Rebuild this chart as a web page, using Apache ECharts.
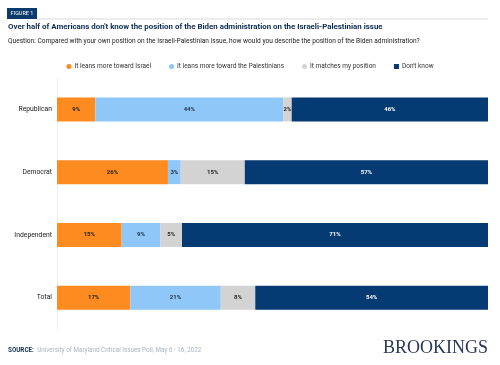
<!DOCTYPE html>
<html>
<head>
<meta charset="utf-8">
<script src="https://cdn.jsdelivr.net/npm/echarts@6/dist/echarts.min.js"></script>
<style>
html,body{margin:0;padding:0;background:#fff;}
#c{width:500px;height:365px;}
</style>
</head>
<body>
<div id="c"></div>
<script>
const categories = ["Republican", "Democrat", "Independent", "Total"];
const seriesNames = ["It leans more toward Israel", "It leans more toward the Palestinians", "It matches my position", "Don't know"];
const israel = [9, 26, 15, 17];
const palestinians = [44, 3, 9, 21];
const matches = [2, 15, 5, 8];
const dontKnow = [46, 57, 71, 54];

const colors = ["#fd8b1f", "#8fc8f8", "#d3d3d3", "#063a73"];
const labelColors = ["#1f1f1f", "#1f2a44", "#1f1f1f", "#ffffff"];
const raw = [israel, palestinians, matches, dontKnow];
const sums = categories.map((c, i) => raw.reduce((s, arr) => s + arr[i], 0));

const chart = echarts.init(document.getElementById('c'), null, {renderer: 'canvas'});
const font = 'Roboto, "Liberation Sans", sans-serif';

chart.setOption({
  animation: false,
  backgroundColor: '#ffffff',
  textStyle: {fontFamily: font},
  graphic: [
    {type: 'rect', shape: {x: 7, y: 8, width: 30, height: 11}, style: {fill: '#0b3b6e'}},
    {type: 'text', style: {x: 22, y: 13.5, text: 'FIGURE 1', fill: '#ffffff', font: '5.5px ' + font, align: 'center', verticalAlign: 'middle'}},
    {type: 'line', shape: {x1: 37, y1: 19, x2: 488, y2: 19}, style: {stroke: '#d9d9d9', lineWidth: 1}},
    {type: 'text', style: {x: 8, y: 27, text: "Over half of Americans don't know the position of the Biden administration on the Israeli-Palestinian issue", fill: '#0d2c54', font: 'bold 7.9px ' + font, verticalAlign: 'middle'}},
    {type: 'text', style: {x: 8, y: 41, text: "Question: Compared with your own position on the Israeli-Palestinian issue, how would you describe the position of the Biden administration?", fill: '#222222', font: '6.6px ' + font, verticalAlign: 'middle'}},
    {type: 'text', style: {x: 8, y: 350, rich: {b: {fill: '#0d2c54', fontWeight: 'bold', fontSize: 6.3, fontFamily: font}, n: {fill: '#a8b4c2', fontSize: 6.3, fontFamily: font}}, text: '{b|SOURCE:} {n|University of Maryland Critical Issues Poll, May 6 - 16, 2022}', verticalAlign: 'middle'}},
    {type: 'text', style: {x: 488, y: 348, text: 'BROOKINGS', fill: '#2a3756', font: '18px "Liberation Serif", "DejaVu Serif", serif', align: 'right', verticalAlign: 'middle'}}
  ],
  legend: {
    top: 58,
    left: 'center',
    itemWidth: 5,
    itemHeight: 5,
    itemGap: 18,
    icon: 'circle',
    textStyle: {fontSize: 6.5, color: '#333', fontFamily: font, padding: [0, 0, 0, -2]},
    data: seriesNames.map((n, i) => ({name: n, icon: i === 3 ? 'rect' : 'circle'}))
  },
  grid: {left: 57, right: 12, top: 78, bottom: 36, containLabel: false},
  xAxis: {
    type: 'value', min: 0, max: 100, show: false
  },
  yAxis: {
    type: 'category', data: categories, inverse: true,
    axisLine: {show: true, lineStyle: {color: '#eeeeee', width: 1}},
    axisTick: {show: false},
    axisLabel: {color: '#222', fontSize: 6.8, fontFamily: font, margin: 5}
  },
  series: raw.map((arr, si) => ({
    name: seriesNames[si],
    type: 'bar',
    stack: 'total',
    barWidth: 24,
    itemStyle: {color: colors[si]},
    label: {
      show: true, position: 'inside', color: labelColors[si], fontSize: 6, fontWeight: 'bold', fontFamily: font,
      formatter: p => arr[p.dataIndex] + '%'
    },
    data: arr.map((v, i) => v / sums[i] * 100)
  }))
});
</script>
</body>
</html>
